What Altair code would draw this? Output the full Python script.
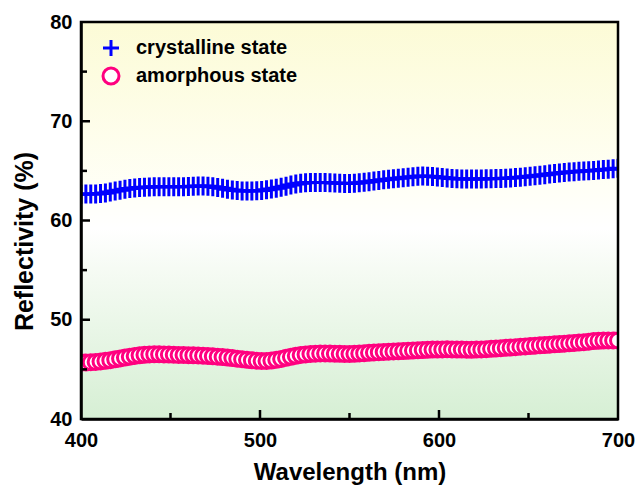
import altair as alt
import pandas as pd

# ---- data ----
WL_START = 400.0
WL_END = 700.0

crystalline = [
    62.64, 62.66, 62.67, 62.68, 62.72, 62.78,
    62.86, 62.96, 63.06, 63.15, 63.22,
    63.28, 63.32, 63.36, 63.38, 63.40,
    63.41, 63.41, 63.40, 63.40, 63.40,
    63.41, 63.43, 63.45, 63.47, 63.47,
    63.45, 63.40, 63.33, 63.25, 63.16,
    63.08, 63.02, 62.98, 62.96, 62.97,
    62.99, 63.03, 63.09, 63.17, 63.25,
    63.35, 63.46, 63.57, 63.67, 63.75,
    63.80, 63.83, 63.84, 63.84, 63.82,
    63.80, 63.78, 63.76, 63.74, 63.74,
    63.76, 63.80, 63.85, 63.91, 63.98,
    64.04, 64.10, 64.15, 64.20, 64.25,
    64.31, 64.37, 64.42, 64.46, 64.48,
    64.47, 64.44, 64.39, 64.33, 64.28,
    64.24, 64.21, 64.19, 64.18, 64.18,
    64.18, 64.19, 64.20, 64.21, 64.22,
    64.24, 64.26, 64.29, 64.32, 64.35,
    64.40, 64.45, 64.50, 64.56, 64.62,
    64.68, 64.74, 64.79, 64.84, 64.88,
    64.92, 64.95, 64.98, 65.01, 65.05,
    65.09, 65.13, 65.17, 65.21, 65.26,
]

amorphous = [
    45.67, 45.69, 45.72, 45.75, 45.80, 45.86,
    45.93, 46.01, 46.10, 46.19, 46.28,
    46.36, 46.42, 46.47, 46.50, 46.52,
    46.52, 46.51, 46.49, 46.48, 46.46,
    46.45, 46.43, 46.42, 46.40, 46.38,
    46.35, 46.32, 46.28, 46.24, 46.19,
    46.14, 46.08, 46.02, 45.96, 45.91,
    45.87, 45.85, 45.85, 45.89, 45.96,
    46.05, 46.16, 46.27, 46.37, 46.45,
    46.51, 46.55, 46.58, 46.60, 46.60,
    46.59, 46.58, 46.57, 46.56, 46.55,
    46.57, 46.60, 46.63, 46.67, 46.70,
    46.73, 46.75, 46.78, 46.80, 46.82,
    46.85, 46.87, 46.90, 46.92, 46.95,
    46.97, 46.99, 47.00, 47.01, 47.02,
    47.01, 47.00, 46.99, 46.98, 46.97,
    46.99, 47.01, 47.04, 47.07, 47.10,
    47.13, 47.17, 47.20, 47.24, 47.28,
    47.31, 47.35, 47.38, 47.42, 47.45,
    47.49, 47.52, 47.55, 47.59, 47.62,
    47.66, 47.70, 47.74, 47.79, 47.85,
    47.88, 47.90, 47.92, 47.92, 47.92,
]

SERIES = ["crystalline state", "amorphous state"]
COLORS = ["#0000FF", "#FF007F"]
X_LABELS = [400, 500, 600, 700]
X_MAJOR = [500, 600]
X_MINOR = [450, 550, 650]
Y_LABELS = [40, 50, 60, 70, 80]
Y_MAJOR = [50, 60, 70]
Y_MINOR = [45, 55, 65, 75]

n = len(crystalline)
wavelength = [WL_START + i * (WL_END - WL_START) / (n - 1) for i in range(n)]

df_c = pd.DataFrame({"wavelength": wavelength, "reflectivity": crystalline, "series": SERIES[0]})
df_a = pd.DataFrame({"wavelength": wavelength, "reflectivity": amorphous, "series": SERIES[1]})

FONT = "Liberation Sans"
CROSS = "M0,-1V1M-1,0H1"
W, H = 537, 397

xscale = alt.Scale(domain=[400, 700], nice=False, zero=False)
yscale = alt.Scale(domain=[40, 80], nice=False, zero=False)

x_enc = alt.X(
    "wavelength:Q", scale=xscale,
    axis=alt.Axis(
        title="Wavelength (nm)", values=X_LABELS, ticks=False, grid=False,
        domainColor="black", domainWidth=2.5, labelFlush=False, labelOverlap=False,
        labelFont=FONT, labelFontSize=20, labelFontWeight="bold", labelColor="black",
        labelPadding=11, titleFont=FONT, titleFontSize=24, titleFontWeight="bold",
        titleColor="black", titlePadding=10, zindex=1,
    ),
)
y_enc = alt.Y(
    "reflectivity:Q", scale=yscale,
    axis=alt.Axis(
        title="Reflectivity (%)", values=Y_LABELS, ticks=False, grid=False,
        domainColor="black", domainWidth=2.5, labelFlush=False, labelOverlap=False,
        labelFont=FONT, labelFontSize=20, labelFontWeight="bold", labelColor="black",
        labelPadding=9, titleFont=FONT, titleFontSize=25, titleFontWeight="bold",
        titleColor="black", titlePadding=12, titleY=219, zindex=1,
    ),
)

legend = alt.Legend(
    title=None, orient="none", legendX=20, legendY=16,
    labelFont=FONT, labelFontSize=20, labelFontWeight="bold", labelColor="black",
    labelLimit=0, symbolSize=256, symbolStrokeWidth=3, rowPadding=0, labelOffset=15,
    padding=0, symbolFillColor="white",
)
color_enc = alt.Color("series:N", scale=alt.Scale(domain=SERIES, range=COLORS), legend=legend)
shape_enc = alt.Shape("series:N", scale=alt.Scale(domain=SERIES, range=[CROSS, "circle"]), legend=legend)

gradient = alt.Gradient(
    gradient="linear", x1=0, y1=0, x2=0, y2=1,
    stops=[
        alt.GradientStop(offset=0.0, color="#FCFBD6"),
        alt.GradientStop(offset=0.42, color="#FFFFF6"),
        alt.GradientStop(offset=0.52, color="#FFFFFF"),
        alt.GradientStop(offset=0.62, color="#F6FBF4"),
        alt.GradientStop(offset=1.0, color="#D6EFD4"),
    ],
)

one = pd.DataFrame({"k": [0]})
bg = alt.Chart(one).mark_rect(fill=gradient, strokeWidth=0).encode(
    x=alt.value(0), x2=alt.value(W), y=alt.value(0), y2=alt.value(H)
)
frame = alt.Chart(one).mark_rect(fill=None, filled=False, stroke="black", strokeWidth=2.5).encode(
    x=alt.value(0), x2=alt.value(W), y=alt.value(0), y2=alt.value(H)
)

pts_c = alt.Chart(df_c).mark_point(
    size=361, strokeWidth=3, filled=False, fill="white", opacity=1, clip=True
).encode(x=x_enc, y=y_enc, color=color_enc, shape=shape_enc)

pts_a = alt.Chart(df_a).mark_point(
    size=225, strokeWidth=3, filled=False, fill="white", opacity=1, clip=True
).encode(x=x_enc, y=y_enc, color=color_enc, shape=shape_enc)


def xticks(vals, length):
    return alt.Chart(pd.DataFrame({"wavelength": vals})).mark_rule(
        color="black", strokeWidth=2.5
    ).encode(x=alt.X("wavelength:Q", scale=xscale), y=alt.value(H), y2=alt.value(H - length))


def yticks(vals, length):
    return alt.Chart(pd.DataFrame({"reflectivity": vals})).mark_rule(
        color="black", strokeWidth=2.5
    ).encode(y=alt.Y("reflectivity:Q", scale=yscale), x=alt.value(0), x2=alt.value(length))


chart = alt.layer(
    bg, pts_c, pts_a,
    xticks(X_MAJOR, 9), xticks(X_MINOR, 6),
    yticks(Y_MAJOR, 9), yticks(Y_MINOR, 6),
    frame,
).properties(
    width=W, height=H,
    autosize=alt.AutoSizeParams(type="none"),
    padding={"left": 81, "top": 22, "right": 18, "bottom": 71},
    background="white",
).configure_view(
    stroke=None,
)

chart.save("out.html", embed_options={"renderer": "svg", "actions": False})
